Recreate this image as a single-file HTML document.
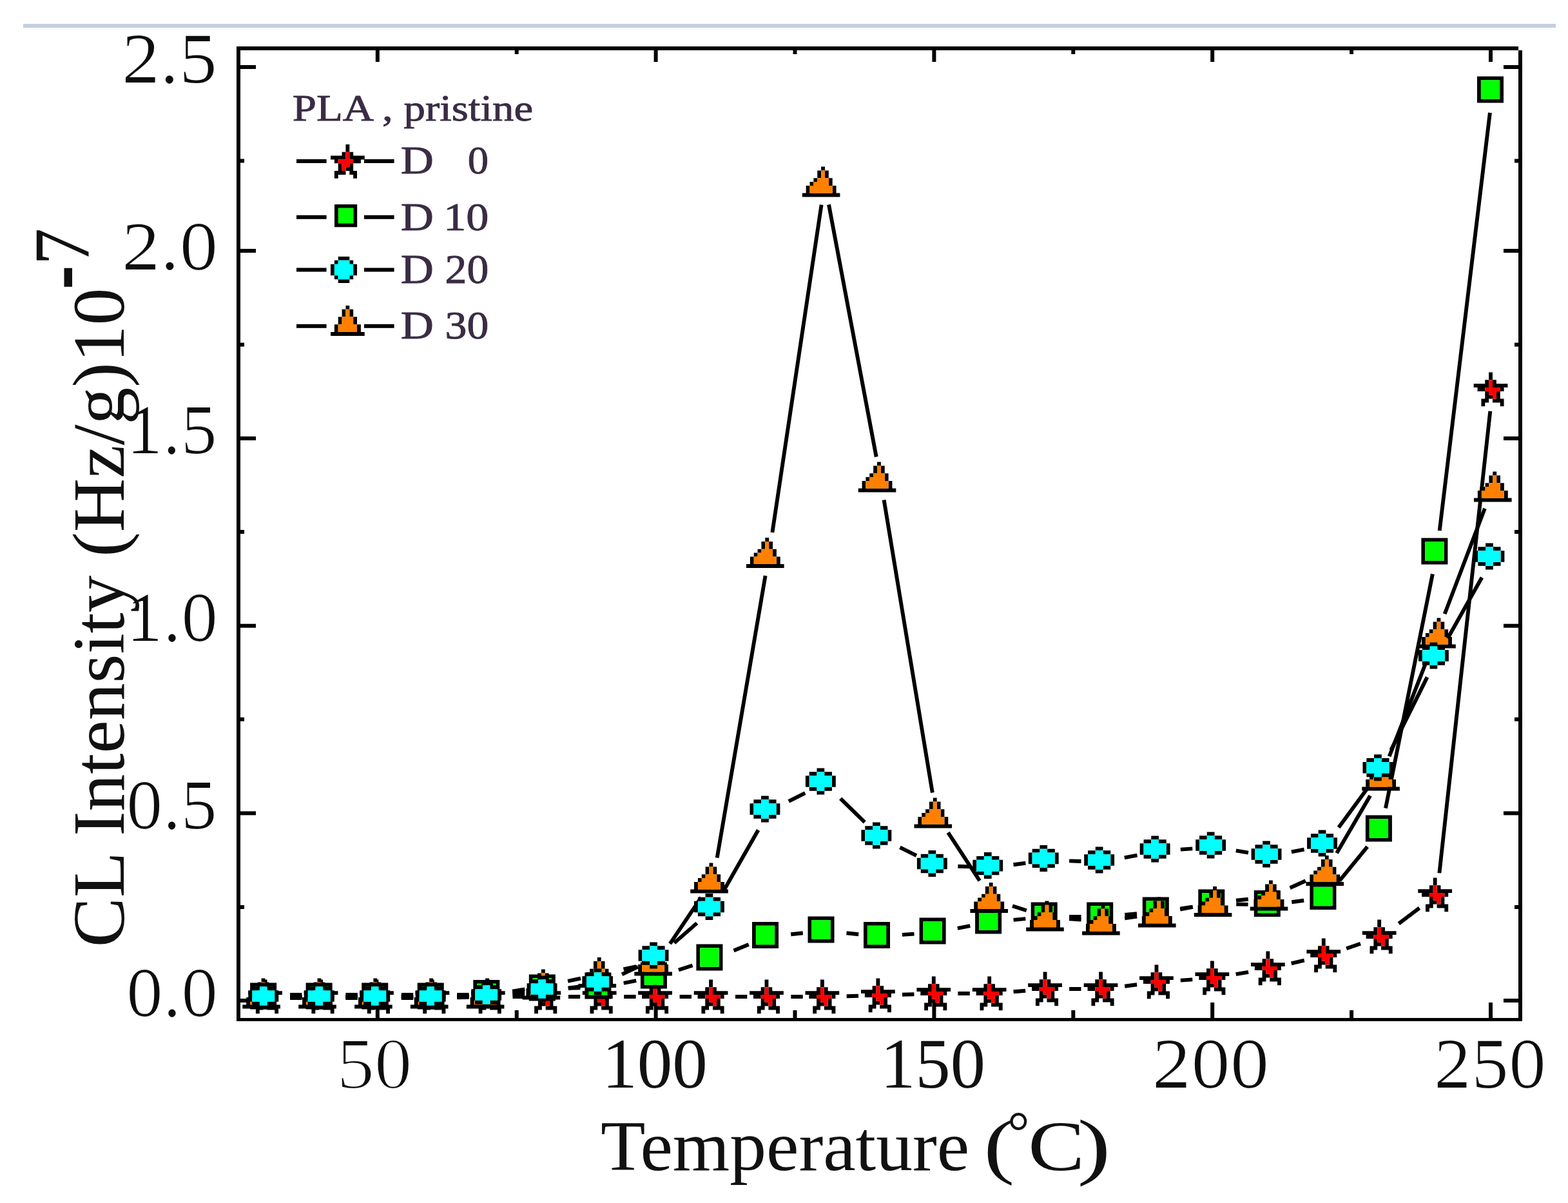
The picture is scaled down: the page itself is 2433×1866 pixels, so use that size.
<!DOCTYPE html>
<html><head><meta charset="utf-8"><title>CL Intensity vs Temperature</title>
<style>html,body{margin:0;padding:0;background:#fff;width:2433px;height:1866px;overflow:hidden}svg{display:block}</style>
</head><body><svg width="2433" height="1866" viewBox="0 0 2433 1866"><defs><filter id="thin" x="-5%" y="-5%" width="110%" height="110%" filterUnits="objectBoundingBox"><feMorphology operator="erode" radius="1.4"/></filter><filter id="thin2" x="-5%" y="-5%" width="110%" height="110%"><feMorphology operator="erode" radius="0.5"/></filter><symbol id="sp" overflow="visible"><path fill="#000" d="M4 0h1v1h-1zM4 1h1v1h-1zM3 2h1v1h-1zM5 2h1v1h-1zM0 3h4v1h-4zM5 3h4v1h-4zM1 4h2v1h-2zM7 4h1v1h-1zM3 5h1v1h-1zM6 5h1v1h-1zM3 6h2v1h-2zM6 6h1v1h-1zM2 7h2v1h-2zM5 7h3v1h-3zM2 8h1v1h-1zM7 8h1v1h-1z"/><path fill="#f00" d="M4 2h1v1h-1zM4 3h1v1h-1zM3 4h4v1h-4zM4 5h2v1h-2zM5 6h1v1h-1z"/></symbol><symbol id="sl" overflow="visible"><path fill="#000" d="M4 0h1v1h-1zM4 1h1v1h-1zM3 2h1v1h-1zM5 2h1v1h-1zM0 3h4v1h-4zM5 3h4v1h-4zM1 4h1v1h-1zM6 4h2v1h-2zM2 5h1v1h-1zM5 5h1v1h-1zM2 6h1v1h-1zM4 6h2v1h-2zM1 7h3v1h-3zM5 7h2v1h-2zM1 8h1v1h-1zM6 8h1v1h-1z"/><path fill="#f00" d="M4 2h1v1h-1zM4 3h1v1h-1zM2 4h4v1h-4zM3 5h2v1h-2zM3 6h1v1h-1z"/></symbol><symbol id="q7" overflow="visible"><path fill="#000" d="M0 0h7v1h-7zM0 1h1v1h-1zM6 1h1v1h-1zM0 2h1v1h-1zM6 2h1v1h-1zM0 3h1v1h-1zM6 3h1v1h-1zM0 4h1v1h-1zM6 4h1v1h-1zM0 5h1v1h-1zM6 5h1v1h-1zM0 6h7v1h-7z"/><path fill="#0f0" d="M1 1h5v1h-5zM1 2h5v1h-5zM1 3h5v1h-5zM1 4h5v1h-5zM1 5h5v1h-5z"/></symbol><symbol id="q6" overflow="visible"><path fill="#000" d="M0 0h6v1h-6zM0 1h1v1h-1zM5 1h1v1h-1zM0 2h1v1h-1zM5 2h1v1h-1zM0 3h1v1h-1zM5 3h1v1h-1zM0 4h1v1h-1zM5 4h1v1h-1zM0 5h6v1h-6z"/><path fill="#0f0" d="M1 1h4v1h-4zM1 2h4v1h-4zM1 3h4v1h-4zM1 4h4v1h-4z"/></symbol><symbol id="c8" overflow="visible"><path fill="#000" d="M3 0h2v1h-2zM1 1h2v1h-2zM5 1h2v1h-2zM1 2h1v1h-1zM6 2h1v1h-1zM0 3h1v1h-1zM7 3h1v1h-1zM0 4h1v1h-1zM7 4h1v1h-1zM1 5h1v1h-1zM6 5h1v1h-1zM1 6h2v1h-2zM5 6h2v1h-2zM3 7h2v1h-2z"/><path fill="#0ff" d="M3 1h2v1h-2zM2 2h4v1h-4zM1 3h6v1h-6zM1 4h6v1h-6zM2 5h4v1h-4zM3 6h2v1h-2z"/></symbol><symbol id="c87" overflow="visible"><path fill="#000" d="M3 0h2v1h-2zM1 1h2v1h-2zM5 1h2v1h-2zM0 2h1v1h-1zM7 2h1v1h-1zM0 3h1v1h-1zM7 3h1v1h-1zM0 4h1v1h-1zM7 4h1v1h-1zM1 5h2v1h-2zM5 5h2v1h-2zM3 6h2v1h-2z"/><path fill="#0ff" d="M3 1h2v1h-2zM1 2h6v1h-6zM1 3h6v1h-6zM1 4h6v1h-6zM3 5h2v1h-2z"/></symbol><symbol id="c7" overflow="visible"><path fill="#000" d="M2 0h3v1h-3zM1 1h1v1h-1zM5 1h1v1h-1zM0 2h1v1h-1zM6 2h1v1h-1zM0 3h1v1h-1zM6 3h1v1h-1zM0 4h1v1h-1zM6 4h1v1h-1zM1 5h1v1h-1zM5 5h1v1h-1zM2 6h3v1h-3z"/><path fill="#0ff" d="M2 1h3v1h-3zM1 2h5v1h-5zM1 3h5v1h-5zM1 4h5v1h-5zM2 5h3v1h-3z"/></symbol><symbol id="t10" overflow="visible"><path fill="#000" d="M5 0h1v1h-1zM4 1h1v1h-1zM6 1h1v1h-1zM4 2h1v1h-1zM6 2h1v1h-1zM3 3h1v1h-1zM7 3h1v1h-1zM2 4h1v1h-1zM7 4h1v1h-1zM1 5h1v1h-1zM8 5h1v1h-1zM1 6h1v1h-1zM8 6h1v1h-1zM0 7h10v1h-10z"/><path fill="#ff8000" d="M5 1h1v1h-1zM5 2h1v1h-1zM4 3h3v1h-3zM3 4h4v1h-4zM2 5h6v1h-6zM2 6h6v1h-6z"/></symbol><symbol id="t9" overflow="visible"><path fill="#000" d="M4 0h1v1h-1zM3 1h1v1h-1zM5 1h1v1h-1zM3 2h1v1h-1zM5 2h1v1h-1zM2 3h1v1h-1zM6 3h1v1h-1zM2 4h1v1h-1zM6 4h1v1h-1zM1 5h1v1h-1zM7 5h1v1h-1zM1 6h1v1h-1zM7 6h1v1h-1zM0 7h9v1h-9z"/><path fill="#ff8000" d="M4 1h1v1h-1zM4 2h1v1h-1zM3 3h3v1h-3zM3 4h3v1h-3zM2 5h5v1h-5zM2 6h5v1h-5z"/></symbol></defs><rect x="36" y="37" width="2378" height="6" fill="#c5cfe0"/><rect x="367" y="72" width="1989" height="6" fill="#000"/><rect x="367" y="72" width="6" height="1512" fill="#000"/><rect x="2356" y="78" width="6" height="1506" fill="#000"/><rect x="367" y="1579" width="1995" height="5" fill="#000"/><rect x="373" y="101.0" width="24" height="6" fill="#000"/><rect x="2333" y="101.0" width="23" height="6" fill="#000"/><rect x="373" y="386.0" width="24" height="6" fill="#000"/><rect x="2333" y="386.0" width="23" height="6" fill="#000"/><rect x="373" y="677.0" width="24" height="6" fill="#000"/><rect x="2333" y="677.0" width="23" height="6" fill="#000"/><rect x="373" y="967.7" width="24" height="6" fill="#000"/><rect x="2333" y="967.7" width="23" height="6" fill="#000"/><rect x="373" y="1258.4" width="24" height="6" fill="#000"/><rect x="2333" y="1258.4" width="23" height="6" fill="#000"/><rect x="373" y="1549.0" width="24" height="6" fill="#000"/><rect x="2333" y="1549.0" width="23" height="6" fill="#000"/><rect x="373" y="246.5" width="6" height="6" fill="#000"/><rect x="2350" y="246.5" width="6" height="6" fill="#000"/><rect x="373" y="531.6" width="6" height="6" fill="#000"/><rect x="2350" y="531.6" width="6" height="6" fill="#000"/><rect x="373" y="822.0" width="6" height="6" fill="#000"/><rect x="2350" y="822.0" width="6" height="6" fill="#000"/><rect x="373" y="1112.7" width="6" height="6" fill="#000"/><rect x="2350" y="1112.7" width="6" height="6" fill="#000"/><rect x="373" y="1404.0" width="6" height="6" fill="#000"/><rect x="2350" y="1404.0" width="6" height="6" fill="#000"/><rect x="582.8" y="78" width="6" height="18" fill="#000"/><rect x="582.8" y="1555" width="6" height="24" fill="#000"/><rect x="1014.6" y="78" width="6" height="18" fill="#000"/><rect x="1014.6" y="1555" width="6" height="24" fill="#000"/><rect x="1446.4" y="78" width="6" height="18" fill="#000"/><rect x="1446.4" y="1555" width="6" height="24" fill="#000"/><rect x="1878.2" y="78" width="6" height="18" fill="#000"/><rect x="1878.2" y="1555" width="6" height="24" fill="#000"/><rect x="2310.0" y="78" width="6" height="18" fill="#000"/><rect x="2310.0" y="1555" width="6" height="24" fill="#000"/><rect x="798.7" y="78" width="6" height="6" fill="#000"/><rect x="798.7" y="1567" width="6" height="12" fill="#000"/><rect x="1230.5" y="78" width="6" height="6" fill="#000"/><rect x="1230.5" y="1567" width="6" height="12" fill="#000"/><rect x="1662.3" y="78" width="6" height="6" fill="#000"/><rect x="1662.3" y="1567" width="6" height="12" fill="#000"/><rect x="2094.1" y="78" width="6" height="6" fill="#000"/><rect x="2094.1" y="1567" width="6" height="12" fill="#000"/><path d="M450.1 1546.0L468.4 1546.0M536.4 1546.0L554.8 1546.0M622.8 1546.0L641.2 1546.0M709.2 1546.0L727.5 1546.0M795.5 1546.0L813.9 1546.0M881.9 1546.0L900.2 1546.0M968.2 1546.0L986.6 1546.0M1054.6 1546.0L1073.0 1546.0M1141.0 1546.0L1159.3 1546.0M1227.3 1546.0L1245.7 1546.0M1313.7 1545.2L1332.0 1544.8M1400.0 1542.8L1418.4 1542.2M1486.4 1541.0L1504.8 1541.0M1572.6 1538.3L1591.2 1536.7M1659.1 1534.0L1677.5 1534.0M1745.2 1529.7L1764.1 1527.3M1831.8 1520.6L1850.3 1519.4M1917.7 1511.2L1937.1 1507.8M2003.7 1494.3L2023.8 1489.7M2089.2 1471.2L2111.0 1463.8M2170.4 1432.6L2202.5 1408.4M2233.4 1354.2L2312.3 637.8" stroke="#000" stroke-width="5.9" fill="none" stroke-linecap="butt"/><use href="#sp" transform="translate(385.2 1519.6) scale(5.86)"/><use href="#sp" transform="translate(471.7 1519.6) scale(5.86)"/><use href="#sp" transform="translate(558.1 1519.6) scale(5.86)"/><use href="#sp" transform="translate(644.5 1519.6) scale(5.86)"/><use href="#sp" transform="translate(730.9 1519.6) scale(5.86)"/><use href="#sp" transform="translate(817.4 1519.6) scale(5.86)"/><use href="#sp" transform="translate(903.8 1519.6) scale(5.86)"/><use href="#sp" transform="translate(990.2 1519.6) scale(5.86)"/><use href="#sp" transform="translate(1076.7 1519.6) scale(5.86)"/><use href="#sp" transform="translate(1163.1 1519.6) scale(5.86)"/><use href="#sp" transform="translate(1249.5 1519.6) scale(5.86)"/><use href="#sp" transform="translate(1336.0 1517.6) scale(5.86)"/><use href="#sp" transform="translate(1422.4 1514.6) scale(5.86)"/><use href="#sp" transform="translate(1508.8 1514.6) scale(5.86)"/><use href="#sp" transform="translate(1595.2 1507.6) scale(5.86)"/><use href="#sp" transform="translate(1681.7 1507.6) scale(5.86)"/><use href="#sp" transform="translate(1768.1 1496.6) scale(5.86)"/><use href="#sp" transform="translate(1854.5 1490.6) scale(5.86)"/><use href="#sp" transform="translate(1941.0 1475.6) scale(5.86)"/><use href="#sp" transform="translate(2027.4 1455.6) scale(5.86)"/><use href="#sp" transform="translate(2113.8 1426.6) scale(5.86)"/><use href="#sp" transform="translate(2200.3 1361.6) scale(5.86)"/><use href="#sp" transform="translate(2286.7 577.6) scale(5.86)"/><path d="M450.1 1547.0L468.4 1547.0M536.4 1547.0L554.8 1547.0M622.8 1547.0L641.2 1547.0M709.1 1545.2L727.6 1544.3M795.4 1539.2L814.0 1537.3M881.9 1532.8L900.3 1532.2M967.7 1524.8L987.2 1521.2M1052.9 1504.5L1074.6 1497.5M1138.5 1474.4L1161.7 1465.1M1227.2 1449.2L1245.8 1447.3M1313.5 1447.3L1332.2 1449.2M1399.9 1449.9L1418.5 1448.6M1485.8 1439.8L1505.3 1436.2M1572.6 1426.9L1591.3 1425.1M1659.1 1422.0L1677.5 1422.0M1745.3 1418.9L1764.0 1417.1M1831.5 1409.3L1850.5 1406.7M1918.2 1402.6L1936.6 1402.9M2004.3 1399.2L2023.2 1396.8M2078.5 1366.2L2121.7 1313.3M2150.0 1253.7L2222.9 890.3M2233.7 823.2L2311.9 174.8" stroke="#000" stroke-width="5.9" fill="none" stroke-linecap="butt"/><use href="#q7" transform="translate(388.1 1524.5) scale(5.86)"/><use href="#q7" transform="translate(474.6 1524.5) scale(5.86)"/><use href="#q7" transform="translate(561.2 1524.5) scale(5.86)"/><use href="#q7" transform="translate(647.7 1524.5) scale(5.86)"/><use href="#q7" transform="translate(734.3 1520.0) scale(5.86)"/><use href="#q7" transform="translate(820.8 1511.5) scale(5.86)"/><use href="#q7" transform="translate(907.4 1508.5) scale(5.86)"/><use href="#q7" transform="translate(993.9 1492.5) scale(5.86)"/><use href="#q7" transform="translate(1080.4 1464.5) scale(5.86)"/><use href="#q7" transform="translate(1167.0 1430.0) scale(5.86)"/><use href="#q7" transform="translate(1253.5 1421.5) scale(5.86)"/><use href="#q7" transform="translate(1340.0 1430.0) scale(5.86)"/><use href="#q7" transform="translate(1426.6 1423.5) scale(5.86)"/><use href="#q7" transform="translate(1513.1 1407.5) scale(5.86)"/><use href="#q7" transform="translate(1599.7 1399.5) scale(5.86)"/><use href="#q7" transform="translate(1686.2 1399.5) scale(5.86)"/><use href="#q7" transform="translate(1772.8 1391.5) scale(5.86)"/><use href="#q7" transform="translate(1859.3 1379.5) scale(5.86)"/><use href="#q7" transform="translate(1945.8 1381.0) scale(5.86)"/><use href="#q7" transform="translate(2032.4 1370.0) scale(5.86)"/><use href="#q7" transform="translate(2118.9 1264.5) scale(5.86)"/><use href="#q7" transform="translate(2205.4 834.5) scale(5.86)"/><use href="#q7" transform="translate(2292.0 118.5) scale(5.86)"/><path d="M450.1 1543.0L468.4 1543.0M536.4 1543.0L554.8 1543.0M622.8 1543.0L641.2 1543.0M709.2 1543.0L727.5 1543.0M795.1 1537.6L814.3 1534.4M881.1 1521.9L901.0 1517.6M967.5 1503.4L987.4 1499.1M1039.6 1463.8L1087.9 1392.2M1112.7 1330.5L1187.6 893.0M1198.4 825.9L1274.6 317.6M1286.0 317.4L1359.7 708.6M1371.6 775.5L1446.8 1229.5M1471.1 1291.4L1520.1 1366.1M1571.0 1405.2L1592.8 1412.3M1659.0 1425.4L1677.6 1426.6M1745.2 1424.3L1764.2 1421.7M1831.2 1410.6L1850.8 1406.9M1918.0 1396.8L1936.8 1394.7M2001.6 1377.2L2025.9 1366.3M2074.1 1323.2L2126.1 1234.3M2155.7 1173.3L2217.3 1015.7M2241.7 952.2L2303.9 788.8" stroke="#000" stroke-width="5.9" fill="none" stroke-linecap="butt"/><use href="#t10" transform="translate(376.3 1517.6) scale(5.86)"/><use href="#t10" transform="translate(463.2 1517.6) scale(5.86)"/><use href="#t10" transform="translate(550.1 1517.6) scale(5.86)"/><use href="#t10" transform="translate(636.9 1517.6) scale(5.86)"/><use href="#t10" transform="translate(723.8 1517.6) scale(5.86)"/><use href="#t10" transform="translate(810.6 1503.6) scale(5.86)"/><use href="#t10" transform="translate(897.5 1485.1) scale(5.86)"/><use href="#t10" transform="translate(984.3 1466.6) scale(5.86)"/><use href="#t10" transform="translate(1071.2 1338.6) scale(5.86)"/><use href="#t10" transform="translate(1158.0 834.1) scale(5.86)"/><use href="#t10" transform="translate(1244.8 258.6) scale(5.86)"/><use href="#t10" transform="translate(1331.7 716.6) scale(5.86)"/><use href="#t10" transform="translate(1418.5 1237.6) scale(5.86)"/><use href="#t10" transform="translate(1505.4 1369.1) scale(5.86)"/><use href="#t10" transform="translate(1592.2 1397.6) scale(5.86)"/><use href="#t10" transform="translate(1679.1 1403.6) scale(5.86)"/><use href="#t10" transform="translate(1766.0 1391.6) scale(5.86)"/><use href="#t10" transform="translate(1852.8 1375.1) scale(5.86)"/><use href="#t10" transform="translate(1939.7 1365.6) scale(5.86)"/><use href="#t10" transform="translate(2026.5 1327.1) scale(5.86)"/><use href="#t10" transform="translate(2113.3 1179.6) scale(5.86)"/><use href="#t10" transform="translate(2200.2 958.6) scale(5.86)"/><use href="#t10" transform="translate(2287.0 731.6) scale(5.86)"/><path d="M450.1 1548.0L468.4 1548.0M536.4 1548.0L554.8 1548.0M622.8 1548.0L641.2 1548.0M709.2 1547.2L727.5 1546.8M795.3 1542.5L814.1 1540.5M881.6 1532.7L900.5 1530.3M965.0 1511.4L989.9 1499.6M1046.2 1462.6L1081.4 1431.9M1123.8 1380.0L1176.5 1287.5M1223.8 1242.8L1249.2 1230.2M1304.1 1238.7L1341.7 1275.3M1396.4 1314.3L1422.0 1327.2M1486.4 1343.7L1504.8 1344.4M1572.5 1341.2L1591.4 1338.8M1659.1 1335.4L1677.5 1336.0M1744.8 1330.4L1764.5 1326.6M1831.8 1317.6L1850.3 1316.4M1917.8 1319.4L1937.0 1322.6M2003.9 1321.4L2023.6 1317.6M2077.1 1283.6L2123.1 1221.1M2158.4 1163.3L2214.5 1050.4M2246.3 990.3L2299.4 895.7" stroke="#000" stroke-width="5.9" fill="none" stroke-linecap="butt"/><use href="#c87" transform="translate(385.3 1524.5) scale(5.86)"/><use href="#c87" transform="translate(471.8 1524.5) scale(5.86)"/><use href="#c87" transform="translate(558.3 1524.5) scale(5.86)"/><use href="#c87" transform="translate(644.7 1524.5) scale(5.86)"/><use href="#c87" transform="translate(731.2 1522.5) scale(5.86)"/><use href="#c87" transform="translate(817.6 1513.5) scale(5.86)"/><use href="#c87" transform="translate(904.1 1502.5) scale(5.86)"/><use href="#c87" transform="translate(990.6 1461.5) scale(5.86)"/><use href="#c87" transform="translate(1077.0 1386.0) scale(5.86)"/><use href="#c87" transform="translate(1163.5 1234.5) scale(5.86)"/><use href="#c87" transform="translate(1249.9 1191.5) scale(5.86)"/><use href="#c87" transform="translate(1336.4 1275.5) scale(5.86)"/><use href="#c87" transform="translate(1422.9 1319.0) scale(5.86)"/><use href="#c87" transform="translate(1509.3 1322.1) scale(5.86)"/><use href="#c87" transform="translate(1595.8 1310.9) scale(5.86)"/><use href="#c87" transform="translate(1682.2 1313.5) scale(5.86)"/><use href="#c87" transform="translate(1768.7 1296.5) scale(5.86)"/><use href="#c87" transform="translate(1855.2 1290.5) scale(5.86)"/><use href="#c87" transform="translate(1941.6 1304.5) scale(5.86)"/><use href="#c87" transform="translate(2028.1 1287.5) scale(5.86)"/><use href="#c87" transform="translate(2114.5 1170.2) scale(5.86)"/><use href="#c87" transform="translate(2201.0 996.5) scale(5.86)"/><use href="#c87" transform="translate(2287.5 842.5) scale(5.86)"/><rect x="460" y="247.0" width="46.6" height="6" fill="#000"/><rect x="565" y="247.0" width="46.6" height="6" fill="#000"/><use href="#sl" transform="translate(513.0 224.0) scale(5.86)"/><rect x="460" y="333.8" width="46.6" height="6" fill="#000"/><rect x="565" y="333.8" width="46.6" height="6" fill="#000"/><use href="#q6" transform="translate(519.0 317.0) scale(5.86)"/><rect x="460" y="415.5" width="46.6" height="6" fill="#000"/><rect x="565" y="415.5" width="46.6" height="6" fill="#000"/><use href="#c7" transform="translate(513.0 398.0) scale(5.86)"/><rect x="460" y="502.8" width="46.6" height="6" fill="#000"/><rect x="565" y="502.8" width="46.6" height="6" fill="#000"/><use href="#t9" transform="translate(513.0 474.0) scale(5.86)"/><text transform="matrix(1.0611 0.0000 0.0000 0.9737 188.6947 128.0526)" font-family="Liberation Serif, serif" font-size="112" font-weight="normal" fill="#111" filter="url(#thin2)">2.5</text><text transform="matrix(1.0687 0.0000 0.0000 0.9481 188.6565 418.1039)" font-family="Liberation Serif, serif" font-size="112" font-weight="normal" fill="#111" filter="url(#thin2)">2.0</text><text transform="matrix(1.0079 0.0000 0.0000 0.9605 195.9206 703.0789)" font-family="Liberation Serif, serif" font-size="112" font-weight="normal" fill="#111" filter="url(#thin2)">1.5</text><text transform="matrix(1.0159 0.0000 0.0000 0.9610 195.8413 994.0779)" font-family="Liberation Serif, serif" font-size="112" font-weight="normal" fill="#111" filter="url(#thin2)">1.0</text><text transform="matrix(1.0076 0.0000 0.0000 0.9610 195.9697 1285.0779)" font-family="Liberation Serif, serif" font-size="112" font-weight="normal" fill="#111" filter="url(#thin2)">0.5</text><text transform="matrix(1.0152 0.0000 0.0000 0.9610 195.9394 1576.0779)" font-family="Liberation Serif, serif" font-size="112" font-weight="normal" fill="#111" filter="url(#thin2)">0.0</text><text transform="matrix(1.0396 0.0000 0.0000 1.0000 522.7228 1688.0000)" font-family="Liberation Serif, serif" font-size="112" font-weight="normal" fill="#111" filter="url(#thin2)">50</text><text transform="matrix(0.9740 0.0000 0.0000 0.9868 934.2597 1687.0132)" font-family="Liberation Serif, serif" font-size="112" font-weight="normal" fill="#111" filter="url(#thin2)">100</text><text transform="matrix(0.9675 0.0000 0.0000 0.9868 1366.3247 1687.0132)" font-family="Liberation Serif, serif" font-size="112" font-weight="normal" fill="#111" filter="url(#thin2)">150</text><text transform="matrix(1.0818 0.0000 0.0000 0.9868 1787.5912 1687.0132)" font-family="Liberation Serif, serif" font-size="112" font-weight="normal" fill="#111" filter="url(#thin2)">200</text><text transform="matrix(1.0377 0.0000 0.0000 0.9868 2224.8113 1687.0132)" font-family="Liberation Serif, serif" font-size="112" font-weight="normal" fill="#111" filter="url(#thin2)">250</text><text transform="matrix(1.0143 0.0000 0.0000 0.9796 931.9713 1815.4898)" font-family="Liberation Serif, serif" font-size="112" font-weight="normal" fill="#111">Temperature</text><text transform="matrix(1.2759 0.0000 0.0000 1.0000 1526.6207 1815.0000)" font-family="Liberation Serif, serif" font-size="112" font-weight="normal" fill="#111">(</text><text transform="matrix(0.7647 0.0000 0.0000 0.7941 1563.1765 1784.5588)" font-family="Liberation Serif, serif" font-size="112" font-weight="normal" fill="#111">°</text><text transform="matrix(1.1746 0.0000 0.0000 0.9867 1595.1270 1815.0133)" font-family="Liberation Serif, serif" font-size="112" font-weight="normal" fill="#111">C</text><text transform="matrix(1.3929 0.0000 0.0000 1.0200 1671.4286 1815.5400)" font-family="Liberation Serif, serif" font-size="112" font-weight="normal" fill="#111">)</text><text transform="matrix(0.0000 -1.0316 1.0284 0.0000 192.0176 1469.1578)" font-family="Liberation Serif, serif" font-size="112" font-weight="normal" fill="#111">CL Intensity (Hz/g)10</text><text transform="matrix(0.0000 -1.0000 1.5000 0.0000 145.0000 449.0000)" font-family="Liberation Serif, serif" font-size="112" font-weight="normal" fill="#111">-</text><text transform="matrix(0.0000 -1.0217 1.0959 0.0000 137.0000 411.1522)" font-family="Liberation Serif, serif" font-size="112" font-weight="normal" fill="#111">7</text><text transform="matrix(1.1148 0.0000 0.0000 0.9615 453.7704 186.5000)" font-family="Liberation Serif, serif" font-size="60" font-weight="normal" fill="#3a2c44" stroke="#3a2c44" stroke-width="0.9">PLA , pristine</text><text transform="matrix(1.1795 0.0000 0.0000 1.0256 621.6410 269.0000)" font-family="Liberation Serif, serif" font-size="60" font-weight="normal" fill="#3a2c44" stroke="#3a2c44" stroke-width="0.9">D</text><text transform="matrix(1.0769 0.0000 0.0000 1.0256 725.8462 269.0000)" font-family="Liberation Serif, serif" font-size="60" font-weight="normal" fill="#3a2c44" stroke="#3a2c44" stroke-width="0.9">0</text><text transform="matrix(1.1795 0.0000 0.0000 1.0256 621.6410 357.0000)" font-family="Liberation Serif, serif" font-size="60" font-weight="normal" fill="#3a2c44" stroke="#3a2c44" stroke-width="0.9">D</text><text transform="matrix(1.1698 0.0000 0.0000 1.0256 688.1509 357.0000)" font-family="Liberation Serif, serif" font-size="60" font-weight="normal" fill="#3a2c44" stroke="#3a2c44" stroke-width="0.9">10</text><text transform="matrix(1.1795 0.0000 0.0000 1.0513 621.6410 439.0000)" font-family="Liberation Serif, serif" font-size="60" font-weight="normal" fill="#3a2c44" stroke="#3a2c44" stroke-width="0.9">D</text><text transform="matrix(1.1273 0.0000 0.0000 1.0513 690.6182 439.0000)" font-family="Liberation Serif, serif" font-size="60" font-weight="normal" fill="#3a2c44" stroke="#3a2c44" stroke-width="0.9">20</text><text transform="matrix(1.1795 0.0000 0.0000 1.0256 621.6410 525.0000)" font-family="Liberation Serif, serif" font-size="60" font-weight="normal" fill="#3a2c44" stroke="#3a2c44" stroke-width="0.9">D</text><text transform="matrix(1.1273 0.0000 0.0000 1.0256 690.6182 525.0000)" font-family="Liberation Serif, serif" font-size="60" font-weight="normal" fill="#3a2c44" stroke="#3a2c44" stroke-width="0.9">30</text></svg></body></html>
